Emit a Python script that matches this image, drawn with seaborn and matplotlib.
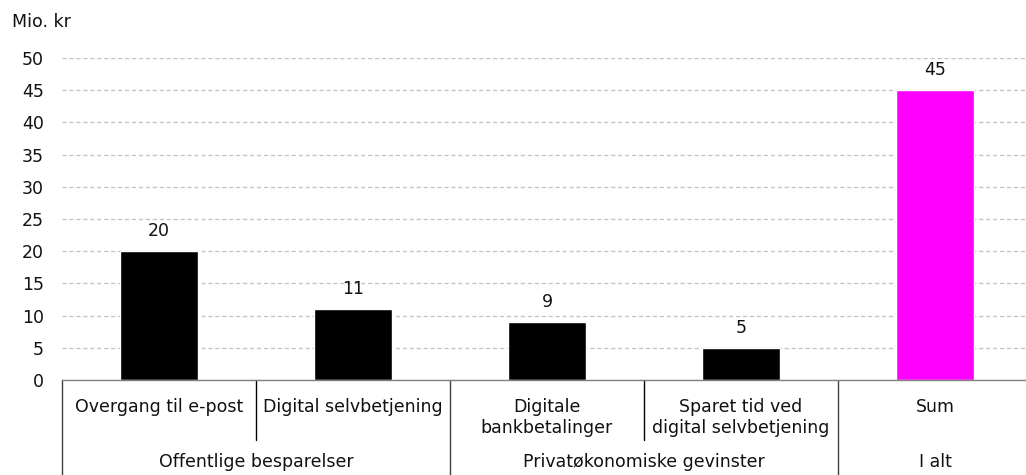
import numpy as np
import pandas as pd
import matplotlib
matplotlib.use('Agg')
import matplotlib.pyplot as plt
import seaborn as sns

# data
categories = ['Overgang til e-post', 'Digital selvbetjening', 'Digitale\nbankbetalinger',
              'Sparet tid ved\ndigital selvbetjening', 'Sum']
values = [20, 11, 9, 5, 45]
bar_colors = ['#000000', '#000000', '#000000', '#000000', '#ff00ff']
groups = ['Offentlige besparelser', 'Privatøkonomiske gevinster', 'I alt']
group_centers = [0.5, 2.5, 4.0]
y_ticks = [0, 5, 10, 15, 20, 25, 30, 35, 40, 45, 50]

sns.set_style('white')
plt.rcParams['font.family'] = ['DejaVu Sans']
fs = 12.5

df = pd.DataFrame({'kategori': categories, 'vaerdi': values})

fig = plt.figure(figsize=(10.26, 4.75), dpi=100)
ax = fig.add_axes([62/1026, 95/475, 964/1026, 322/475])

sns.barplot(data=df, x='kategori', y='vaerdi', hue='kategori', palette=bar_colors,
            width=0.4, legend=False, ax=ax, saturation=1)

ax.set_ylim(0, 50)
ax.set_xlim(-0.5, -0.5 + 964/194)
ax.set_yticks(y_ticks)
ax.yaxis.grid(True, linestyle=(0, (3, 2)), color='#c4c4c4', linewidth=1)
ax.set_axisbelow(True)
ax.tick_params(axis='y', length=0, pad=13, labelsize=fs, colors='#111111')
ax.set_xticks([])
ax.set_xlabel('')
ax.set_ylabel('')
for s in ['top', 'right', 'left']:
    ax.spines[s].set_visible(False)
ax.spines['bottom'].set_color('#808080')
ax.spines['bottom'].set_linewidth(1)

# value labels
for i, v in enumerate(values):
    ax.annotate(str(v), (i, v), xytext=(0, 8), textcoords='offset points',
                ha='center', va='bottom', fontsize=fs, color='#111111')

# category table below the axis
trans = ax.get_xaxis_transform()
for i, c in enumerate(categories):
    ax.text(i, -0.057, c, transform=trans, ha='center', va='top', fontsize=fs,
            linespacing=1.2, color='#111111')
for g, gx in zip(groups, group_centers):
    ax.text(gx, -0.255, g, transform=trans, ha='center', va='center', fontsize=fs,
            color='#111111')

for xb in [0.5, 2.5]:
    ax.plot([xb, xb], [0, -0.186], transform=trans, color='black', lw=1, clip_on=False)
for xb in [-0.5, 1.5, 3.5]:
    ax.plot([xb, xb], [0, -0.3], transform=trans, color='#404040', lw=1, clip_on=False)

fig.text(12/1026, 1 - 22/475, 'Mio. kr', ha='left', va='center', fontsize=fs, color='#111111')

fig.savefig('out.png', dpi=100)
